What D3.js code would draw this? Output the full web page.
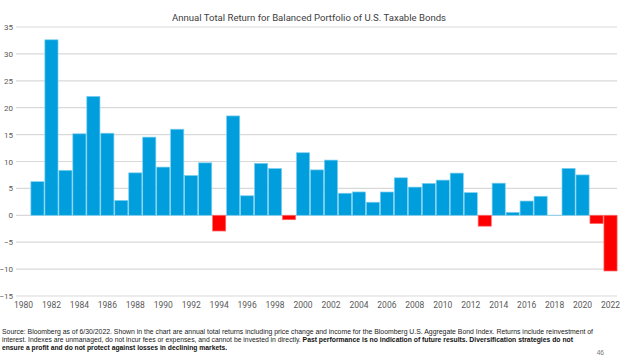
<!DOCTYPE html>
<html><head><meta charset="utf-8">
<script src="https://cdn.jsdelivr.net/npm/d3@7"></script>
<style>html,body{margin:0;padding:0;background:#fff;}svg{display:block;}</style>
</head><body>
<svg id="c" width="624" height="358"></svg>
<script>
const years = d3.range(1980, 2023);
const returns = [null, 6.25, 32.62, 8.36, 15.15, 22.10, 15.26, 2.76, 7.89, 14.53, 8.96, 16.00, 7.40, 9.75, -2.92, 18.47, 3.63, 9.65, 8.69, -0.82, 11.63, 8.44, 10.26, 4.10, 4.34, 2.43, 4.33, 6.97, 5.24, 5.93, 6.54, 7.84, 4.21, -2.02, 5.97, 0.55, 2.65, 3.54, 0.01, 8.72, 7.51, -1.54, -10.35];
const yTicks = [-15, -10, -5, 0, 5, 10, 15, 20, 25, 30, 35];
const xTickYears = d3.range(1980, 2023, 2);
const title = "Annual Total Return for Balanced Portfolio of U.S. Taxable Bonds";
const noteLine1 = "Source: Bloomberg as of 6/30/2022. Shown in the chart are annual total returns including price change and income for the Bloomberg U.S. Aggregate Bond Index. Returns include reinvestment of";
const noteLine2a = "interest. Indexes are unmanaged, do not incur fees or expenses, and cannot be invested in directly. ";
const noteLine2b = "Past performance is no indication of future results. Diversification strategies do not";
const noteLine3 = "ensure a profit and do not protect against losses in declining markets.";
const pageNo = "46";

const svg = d3.select("#c");
const x = d3.scaleBand().domain(years).range([16.5, 617.5]).paddingInner(0.06).paddingOuter(0.03);
const y = d3.scaleLinear().domain([-15, 35]).range([296, 27]);

// gridlines
svg.append("g").selectAll("line").data(yTicks).join("line")
  .attr("x1", 16).attr("x2", 617)
  .attr("y1", d => y(d)).attr("y2", d => y(d))
  .attr("stroke", "#d9d9d9").attr("stroke-width", 1.2);

// y axis labels
const yAxis = d3.axisLeft(y).tickValues(yTicks).tickSize(0).tickPadding(0);
const gy = svg.append("g").attr("transform", "translate(13,0)").call(yAxis);
gy.select(".domain").remove();
gy.selectAll("text").attr("font-family", "Roboto, sans-serif").attr("font-size", 8).attr("fill", "#595959");

// x axis labels
const xAxis = d3.axisBottom(x).tickValues(xTickYears).tickSize(0).tickPadding(0);
const gx = svg.append("g").attr("transform", "translate(0,302)").call(xAxis);
gx.select(".domain").remove();
gx.selectAll("text").attr("font-family", "Roboto, sans-serif").attr("font-size", 8.5).attr("fill", "#595959");

// bars
const data = years.map((yr, i) => ({year: yr, v: returns[i]})).filter(d => d.v !== null);
svg.append("g").selectAll("rect").data(data).join("rect")
  .attr("x", d => x(d.year))
  .attr("width", x.bandwidth())
  .attr("y", d => y(Math.max(0, d.v)))
  .attr("height", d => Math.abs(y(d.v) - y(0)))
  .attr("fill", d => d.v >= 0 ? "#009EDD" : "#FF0000")
  .attr("stroke", d => d.v >= 0 ? "#7CCFF0" : "#FF6A6A")
  .attr("stroke-width", 0.7);

// title
svg.append("text").attr("x", 309).attr("y", 21).attr("text-anchor", "middle")
  .attr("font-family", "Roboto, sans-serif").attr("font-size", 9.5).attr("fill", "#404040")
  .attr("textLength", 274).attr("lengthAdjust", "spacingAndGlyphs")
  .text(title);

// footnote
const ff = "'Liberation Sans', Arial, sans-serif";
svg.append("text").attr("x", 2).attr("y", 334).attr("font-family", ff).attr("font-size", 6.6).attr("fill", "#222")
  .attr("textLength", 591).attr("lengthAdjust", "spacingAndGlyphs").text(noteLine1);
const t2 = svg.append("text").attr("x", 2).attr("y", 342).attr("font-family", ff).attr("font-size", 6.6).attr("fill", "#222")
  .attr("textLength", 571).attr("lengthAdjust", "spacingAndGlyphs");
t2.append("tspan").text(noteLine2a);
t2.append("tspan").attr("font-weight", "bold").attr("fill", "#111").text(noteLine2b);
svg.append("text").attr("x", 2).attr("y", 350).attr("font-family", ff).attr("font-size", 6.6).attr("font-weight", "bold").attr("fill", "#111")
  .attr("textLength", 225).attr("lengthAdjust", "spacingAndGlyphs").text(noteLine3);
svg.append("text").attr("x", 604).attr("y", 355).attr("text-anchor", "end").attr("font-family", ff).attr("font-size", 6.6).attr("fill", "#777").text(pageNo);
</script>
</body></html>
